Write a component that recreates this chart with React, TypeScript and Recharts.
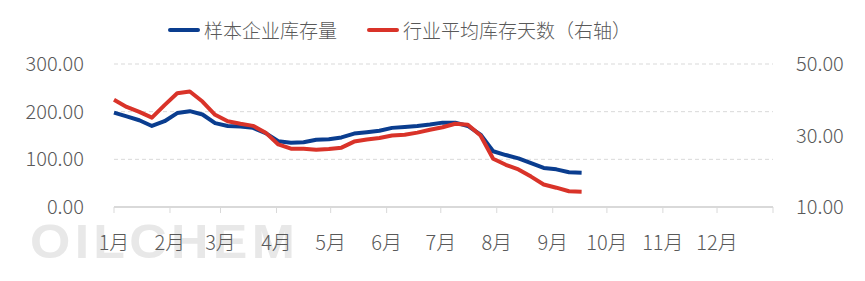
import React from 'react';
import { LineChart, Line, XAxis, YAxis, CartesianGrid } from 'recharts';

// week points, day of year
const days = [0, 7, 14, 21, 28, 35, 42, 49, 56, 63, 70, 77, 84, 91, 98, 105, 112, 119, 126,
  133, 140, 147, 154, 161, 168, 175, 182, 189, 196, 203, 210, 217, 224, 231, 238, 245, 252, 259];

// 样本企业库存量 (left axis)
const inventory = [198, 190, 182, 170, 180, 197, 201, 194, 176, 170, 169, 166, 155, 138, 135, 136,
  141, 142, 146, 154, 157, 160, 166, 168, 170, 173, 177, 177, 170, 152, 117, 109, 102, 92, 82, 79, 73, 72];

// 行业平均库存天数 (right axis)
const stockDays = [40, 38, 36.6, 35, 38.5, 41.8, 42.3, 39.5, 35.8, 34, 33.3, 32.7, 30.8, 27.5, 26.3,
  26.3, 26, 26.2, 26.6, 28.3, 28.9, 29.3, 30, 30.2, 30.8, 31.6, 32.3, 33.3, 33, 30, 23.5, 21.8, 20.5,
  18.5, 16.3, 15.4, 14.4, 14.3];

const monthTicks = [0, 31, 59, 90, 120, 151, 181, 212, 243, 273, 304, 334, 365];
const monthLabels = ['1月', '2月', '3月', '4月', '5月', '6月', '7月', '8月', '9月', '10月', '11月', '12月', ''];

const leftTicks = [0, 100, 200, 300];
const rightTicks = [10, 30, 50];

const BLUE = '#0a3d8f';
const RED = '#d93329';
const FONT = "'Noto Sans CJK SC', 'Noto Sans', sans-serif";

const data = days.map((d, i) => ({ day: d, inventory: inventory[i], stockDays: stockDays[i] }));

const App: React.FC = () => {
  const tickStyle = { fontSize: 20, fill: '#595959', fontFamily: FONT, fontWeight: 300 };
  return (
    <div style={{ position: 'relative', margin: -8, width: 865, height: 281, background: '#fff', overflow: 'hidden' }}>
      {/* watermark logo */}
      <div style={{
        position: 'absolute', left: 30, top: 214, fontFamily: "'Liberation Sans', sans-serif",
        fontWeight: 700, fontSize: 48, letterSpacing: 4, color: '#e8e8e8',
        transform: 'scaleX(1.08)', transformOrigin: 'left',
      }}>OILCHEM</div>

      {/* legend */}
      <div style={{ position: 'absolute', left: 0, top: 0, width: 865, height: 60, fontFamily: FONT, fontWeight: 300, fontSize: 19, color: '#595959' }}>
        <div style={{ position: 'absolute', left: 168, top: 28, width: 32, height: 4, borderRadius: 2, background: BLUE }} />
        <div style={{ position: 'absolute', left: 204, top: 16, lineHeight: '28px' }}>样本企业库存量</div>
        <div style={{ position: 'absolute', left: 367, top: 28, width: 32, height: 4, borderRadius: 2, background: RED }} />
        <div style={{ position: 'absolute', left: 403, top: 16, lineHeight: '28px' }}>行业平均库存天数（右轴）</div>
      </div>

      <div style={{ position: 'absolute', left: 0, top: 0 }}>
        <LineChart width={865} height={281} data={data} margin={{ top: 64, right: 0, bottom: 34, left: 0 }}>
          <CartesianGrid yAxisId="left" vertical={false} stroke="#d9d9d9" strokeDasharray="4 3" />
          <XAxis
            dataKey="day"
            type="number"
            domain={[0, 365]}
            ticks={monthTicks}
            interval={0}
            tickFormatter={(v: number) => monthLabels[monthTicks.indexOf(v)] ?? ''}
            axisLine={{ stroke: '#d9d9d9', strokeWidth: 2 }}
            tickLine={{ stroke: '#d9d9d9' }}
            tickSize={6}
            tickMargin={23}
            height={40}
            tick={tickStyle}
          />
          <YAxis
            yAxisId="left"
            domain={[0, 300]}
            ticks={leftTicks}
            tickFormatter={(v: number) => v.toFixed(2)}
            axisLine={false}
            tickLine={false}
            tickSize={0}
            tickMargin={30}
            width={114}
            tick={tickStyle}
          />
          <YAxis
            yAxisId="right"
            orientation="right"
            domain={[10, 50]}
            ticks={rightTicks}
            tickFormatter={(v: number) => v.toFixed(2)}
            axisLine={false}
            tickLine={false}
            tickSize={0}
            tickMargin={23}
            width={92}
            tick={{ ...tickStyle, textAnchor: 'start' }}
          />
          <Line yAxisId="left" type="linear" dataKey="inventory" stroke={BLUE} strokeWidth={4}
            dot={false} isAnimationActive={false} strokeLinejoin="round" />
          <Line yAxisId="right" type="linear" dataKey="stockDays" stroke={RED} strokeWidth={4}
            dot={false} isAnimationActive={false} strokeLinejoin="round" />
        </LineChart>
      </div>
    </div>
  );
};

export default App;
